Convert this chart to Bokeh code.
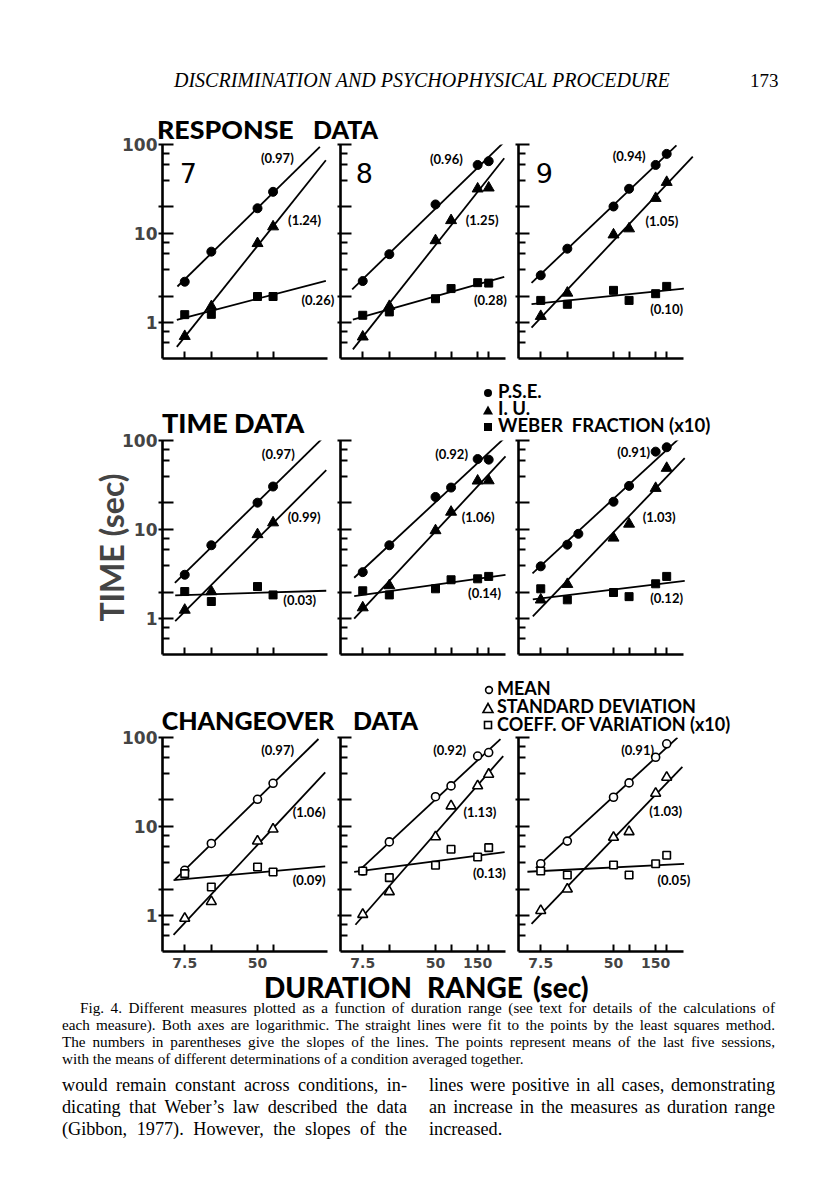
import numpy as np
from bokeh.plotting import figure
from bokeh.models import Div, Label, FixedTicker, Range1d
from bokeh.layouts import row, column
from bokeh.embed import file_html
from bokeh.resources import INLINE

# ---------------- values ----------------
DUR_7 = [7.5, 15, 50, 75]                  # duration ranges used with bird 7
DUR_89 = [7.5, 15, 50, 75, 150, 200]       # duration ranges used with birds 8 and 9
DUR_R8_PSE = [7.5, 15, 50, 150, 200]
DUR_T9_PSE = [7.5, 15, 20, 50, 75, 150, 200]

# RESPONSE DATA
r7_pse = [2.9, 6.3, 19.3, 29.5]
r7_iu = [0.71, 1.53, 7.8, 12.0]
r7_web = [1.24, 1.25, 1.98, 1.98]
r8_pse = [2.95, 5.9, 21.3, 59, 65]
r8_iu = [0.70, 1.54, 8.4, 14.1, 31.9, 32.7]
r8_web = [1.22, 1.33, 1.87, 2.43, 2.83, 2.8]
r9_pse = [3.42, 6.8, 20.2, 31.9, 59, 78.5]
r9_iu = [1.19, 2.17, 9.75, 11.4, 25, 37.8]
r9_web = [1.79, 1.62, 2.32, 1.79, 2.13, 2.57]

# TIME DATA
t7_pse = [3.13, 6.7, 20.1, 30.5]
t7_iu = [1.26, 2.03, 8.85, 12.0]
t7_web = [2.03, 1.57, 2.31, 1.86]
t8_pse = [3.35, 6.7, 23.3, 29.7, 62, 61]
t8_iu = [1.34, 2.37, 9.8, 15.8, 35.3, 35.5]
t8_web = [2.07, 1.86, 2.18, 2.75, 2.82, 3.0]
t9_pse = [3.89, 6.8, 9.0, 20.6, 31, 75, 84]
t9_iu = [1.64, 2.45, 8.1, 11.6, 29.2, 49]
t9_web = [2.18, 1.64, 1.98, 1.78, 2.48, 3.0]

# CHANGEOVER DATA
c7_mean = [3.25, 6.5, 20.3, 30.7]
c7_sd = [0.94, 1.45, 6.9, 9.4]
c7_cov = [2.98, 2.11, 3.54, 3.11]
c8_mean = [3.19, 6.76, 21.7, 28.7, 62, 67.8]
c8_sd = [1.04, 1.87, 7.7, 17.1, 28.7, 38.7]
c8_cov = [3.19, 2.69, 3.7, 5.6, 4.58, 5.83]
c9_mean = [3.85, 6.9, 21.4, 31, 60, 85]
c9_sd = [1.15, 2.0, 7.6, 8.8, 23.7, 35.8]
c9_cov = [3.19, 2.88, 3.73, 2.88, 3.85, 4.8]

# least-squares slopes printed in parentheses (birds 7, 8, 9)
resp_pse_slope = [0.97, 0.96, 0.94]
resp_iu_slope = [1.24, 1.25, 1.05]
resp_web_slope = [0.26, 0.28, 0.10]
time_pse_slope = [0.97, 0.92, 0.91]
time_iu_slope = [0.99, 1.06, 1.03]
time_web_slope = [0.03, 0.14, 0.12]
chg_mean_slope = [0.97, 0.92, 0.91]
chg_sd_slope = [1.06, 1.13, 1.03]
chg_cov_slope = [0.09, 0.13, 0.05]

BIRDS = ["7", "8", "9"]
X_TICKS_7 = [7.5, 15, 50, 75]
X_TICKS_89 = [7.5, 15, 50, 75, 150, 200]
X_TICK_LABELS = {7.5: "7.5", 50: "50", 150: "150"}
Y_MAJOR = [1, 2, 10, 20, 100]
Y_MINOR = [0.6, 0.8, 4, 6, 8, 40, 60, 80]
Y_TICK_LABELS = {1: "1", 10: "10", 100: "100"}

# ---------------- placement (not data) ----------------
X_LO, X_AXIS_HI = 4.2, 310          # drawn extent of the duration axis
Y_LO, Y_HI = 0.4, 100
AXIS_PX = 165                        # pixel length of the drawn x axis
PX_PER_DEC = AXIS_PX / np.log10(X_AXIS_HI / X_LO)
FRAME_W = [175, 175, 195]            # frames a bit wider than the axis so labels are not clipped
LEFT_B = [154, 3, 3]
RIGHT_B = [0, 0, 5]

resp_ext = [[(6.2, 254), (6.1, 297), (6.1, 297)],
            [(5.7, 293), (5.8, 300), (5.8, 300)],
            [(5.9, 258), (5.9, 395), (5.9, 313)]]
time_ext = [[(5.8, 266), (5.85, 300), (5.85, 300)],
            [(6.0, 300), (6.0, 310), (6.0, 310)],
            [(6.05, 292), (6.1, 320), (6.1, 320)]]
chg_ext = [[(5.8, 245), (5.6, 292), (5.6, 292)],
           [(7.0, 272), (6.2, 292), (6.0, 303)],
           [(6.6, 265), (5.9, 301), (5.3, 315)]]
resp_lbl = [[(54.6, 70), (111, 14.1), (157, 1.82)],
            [(43.3, 69), (110, 14.1), (136, 1.79)],
            [(49, 73.6), (115, 14), (130, 1.42)]]
time_lbl = [[(56, 70.6), (110, 14), (98, 1.62)],
            [(49.5, 70.6), (99, 14), (117, 1.94)],
            [(55, 75), (107, 14), (130, 1.72)]]
chg_lbl = [[(55, 72), (125, 14.7), (125, 2.52)],
           [(47, 72), (103.5, 14.7), (133, 3.0)],
           [(61, 72), (127, 15), (157, 2.5)]]
num_pos = [(6.6, 48), (6.25, 48), (6.6, 48)]


def fit_line(xs, ys, slope, ext):
    lx = np.log10(np.asarray(xs, float))
    ly = np.log10(np.asarray(ys, float))
    b = ly.mean() - slope * lx.mean()
    xe = np.asarray(ext, float)
    return xe, 10 ** (b + slope * np.log10(xe))


def make_panel(r, c, series, exts, lbls, number=None, ylabel=None):
    bottom = 24 if r == 2 else 8
    x_hi = X_LO * 10 ** (FRAME_W[c] / PX_PER_DEC)
    p = figure(x_axis_type="log", y_axis_type="log",
               x_range=Range1d(X_LO, x_hi), y_range=Range1d(Y_LO, Y_HI),
               frame_width=FRAME_W[c], frame_height=214,
               min_border_left=LEFT_B[c], min_border_right=RIGHT_B[c],
               min_border_top=10, min_border_bottom=bottom,
               output_backend="svg", toolbar_location=None, title=None,
               background_fill_color=None, border_fill_color=None,
               outline_line_color=None)
    p.grid.visible = False
    xt = X_TICKS_7 if c == 0 else X_TICKS_89

    xa = p.xaxis[0]
    xa.bounds = (X_LO, X_AXIS_HI)
    xa.ticker = FixedTicker(ticks=xt, minor_ticks=[])
    xa.axis_line_width = 2.6
    xa.major_tick_line_width = 2
    xa.major_tick_in = 7
    xa.major_tick_out = 0
    xa.minor_tick_line_color = None
    if r == 2:
        xa.major_label_overrides = {t: X_TICK_LABELS.get(t, "") for t in xt}
        xa.major_label_text_font = "DejaVu Sans"
        xa.major_label_text_font_style = "bold"
        xa.major_label_text_font_size = "14px"
        xa.major_label_standoff = 6
    else:
        xa.major_label_overrides = {t: "" for t in xt}
        xa.major_label_text_font_size = "0px"
        xa.major_label_standoff = 0

    ya = p.yaxis[0]
    ya.ticker = FixedTicker(ticks=Y_MAJOR, minor_ticks=Y_MINOR)
    ya.axis_line_width = 2.6
    ya.major_tick_line_width = 2
    ya.minor_tick_line_width = 2
    ya.major_tick_in = 11
    ya.minor_tick_in = 7
    ya.minor_tick_out = 0
    if c == 0:
        ya.major_tick_out = 4
        ya.major_label_overrides = {t: Y_TICK_LABELS.get(t, "") for t in Y_MAJOR}
        ya.major_label_text_font = "DejaVu Sans"
        ya.major_label_text_font_style = "bold"
        ya.major_label_text_font_size = "17px"
        ya.major_label_standoff = 1
    else:
        ya.major_tick_out = 3
        ya.major_label_overrides = {t: "" for t in Y_MAJOR}
        ya.major_label_text_font_size = "0px"
        ya.major_label_standoff = 0
    if ylabel:
        ya.axis_label = ylabel
        ya.axis_label_text_font = "Lato"
        ya.axis_label_text_font_style = "bold"
        ya.axis_label_text_font_size = "32px"
        ya.axis_label_standoff = -12

    filled = r < 2
    for (xs, ys, slope, kind), ext in zip(series, exts):
        lx, ly = fit_line(xs, ys, slope, ext)
        p.line(lx, ly, line_color="black", line_width=1.8)
    for (xs, ys, slope, kind) in series:
        if filled:
            size = {"circle": 9, "triangle": 11, "square": 8}[kind]
            p.scatter(xs, ys, marker=kind, size=size, fill_color="black",
                      line_color="black", line_width=1)
        else:
            size = {"circle": 8, "triangle": 10, "square": 7.5}[kind]
            p.scatter(xs, ys, marker=kind, size=size, fill_color="white",
                      line_color="black", line_width=1.6)
    for (xs, ys, slope, kind), (lx, ly) in zip(series, lbls):
        p.add_layout(Label(x=lx, y=ly, text="(%.2f)" % slope,
                           text_font="Lato", text_font_style="bold",
                           text_font_size="13px", text_baseline="middle",
                           text_align="left", text_color="black"))
    if number is not None:
        nx, ny = num_pos[c]
        p.add_layout(Label(x=nx, y=ny, text=number, text_font="DejaVu Sans",
                           text_font_size="27px", text_baseline="alphabetic",
                           text_align="left", text_color="black"))
    return p


resp_series = [
    [(DUR_7, r7_pse, resp_pse_slope[0], "circle"), (DUR_7, r7_iu, resp_iu_slope[0], "triangle"),
     (DUR_7, r7_web, resp_web_slope[0], "square")],
    [(DUR_R8_PSE, r8_pse, resp_pse_slope[1], "circle"), (DUR_89, r8_iu, resp_iu_slope[1], "triangle"),
     (DUR_89, r8_web, resp_web_slope[1], "square")],
    [(DUR_89, r9_pse, resp_pse_slope[2], "circle"), (DUR_89, r9_iu, resp_iu_slope[2], "triangle"),
     (DUR_89, r9_web, resp_web_slope[2], "square")],
]
time_series = [
    [(DUR_7, t7_pse, time_pse_slope[0], "circle"), (DUR_7, t7_iu, time_iu_slope[0], "triangle"),
     (DUR_7, t7_web, time_web_slope[0], "square")],
    [(DUR_89, t8_pse, time_pse_slope[1], "circle"), (DUR_89, t8_iu, time_iu_slope[1], "triangle"),
     (DUR_89, t8_web, time_web_slope[1], "square")],
    [(DUR_T9_PSE, t9_pse, time_pse_slope[2], "circle"), (DUR_89, t9_iu, time_iu_slope[2], "triangle"),
     (DUR_89, t9_web, time_web_slope[2], "square")],
]
chg_series = [
    [(DUR_7, c7_mean, chg_mean_slope[0], "circle"), (DUR_7, c7_sd, chg_sd_slope[0], "triangle"),
     (DUR_7, c7_cov, chg_cov_slope[0], "square")],
    [(DUR_89, c8_mean, chg_mean_slope[1], "circle"), (DUR_89, c8_sd, chg_sd_slope[1], "triangle"),
     (DUR_89, c8_cov, chg_cov_slope[1], "square")],
    [(DUR_89, c9_mean, chg_mean_slope[2], "circle"), (DUR_89, c9_sd, chg_sd_slope[2], "triangle"),
     (DUR_89, c9_cov, chg_cov_slope[2], "square")],
]

row1 = row([make_panel(0, c, resp_series[c], resp_ext[c], resp_lbl[c], number=BIRDS[c]) for c in range(3)])
row2 = row([make_panel(1, c, time_series[c], time_ext[c], time_lbl[c],
                       ylabel="TIME (sec)" if c == 0 else None) for c in range(3)])
row3 = row([make_panel(2, c, chg_series[c], chg_ext[c], chg_lbl[c]) for c in range(3)])

# ---------------- text blocks ----------------
SERIF = "'Liberation Serif','Times New Roman',serif"
LATO = "Lato,'DejaVu Sans',sans-serif"
K_LATO = 0.387      # (ascent - descent) / 2
K_SERIF = 0.3375


def txt(x, base, s, fam, size, weight="normal", style="normal", k=K_LATO, lh=None, extra=""):
    lh = size if lh is None else lh
    top = base - lh / 2.0 - k * size
    return ('<div style="position:absolute;left:%.1fpx;top:%.1fpx;font-family:%s;font-size:%.1fpx;'
            'line-height:%.1fpx;font-weight:%s;font-style:%s;white-space:nowrap;color:#000;%s">%s</div>'
            % (x, top, fam, size, lh, weight, style, extra, s))


def jline(x, base, w, s, size, last=False, nowrap=False):
    lh = size
    top = base - lh / 2.0 - K_SERIF * size
    al = "left" if last else "justify"
    ws = "white-space:nowrap;" if nowrap else ""
    return ('<div style="position:absolute;left:%.1fpx;top:%.1fpx;width:%dpx;font-family:%s;font-size:%.1fpx;'
            'line-height:%.1fpx;text-align:%s;text-align-last:%s;color:#000;%s">%s</div>'
            % (x, top, w, SERIF, size, lh, al, al, ws, s))


def sym(cx, cy, kind, filled):
    f = "#000" if filled else "#fff"
    sw = 0 if filled else 1.6
    if kind == "circle":
        shape = '<circle cx="6" cy="6" r="%.1f" fill="%s" stroke="#000" stroke-width="%.1f"/>' % (4 if filled else 3.4, f, sw)
    elif kind == "triangle":
        shape = '<polygon points="6,1.5 11,10.5 1,10.5" fill="%s" stroke="#000" stroke-width="%.1f"/>' % (f, sw)
    else:
        shape = ('<rect x="2" y="2" width="8" height="8" fill="%s"/>' % f if filled else
                 '<rect x="2.5" y="2.5" width="7" height="7" fill="%s" stroke="#000" stroke-width="%.1f"/>' % (f, sw))
    return ('<svg style="position:absolute;left:%.1fpx;top:%.1fpx;overflow:visible" width="12" height="12">%s</svg>'
            % (cx - 6, cy - 6, shape))


def block(h, parts):
    return Div(text='<div style="position:relative;width:800px;height:%dpx;overflow:visible;">%s</div>' % (h, "".join(parts)),
               width=800, height=h, margin=(0, 0, 0, 0), styles={"overflow": "visible"})


# coordinates below are relative to each block (page minus 8px margin)
divA = block(126, [
    txt(166, 79, "DISCRIMINATION AND PSYCHOPHYSICAL PROCEDURE", SERIF, 20, style="italic", k=K_SERIF),
    txt(742, 79, "173", SERIF, 19, k=K_SERIF),
    txt(149, 131, "RESPONSE", LATO, 25, weight="900", lh=20,
        extra="transform:scaleX(1.07);transform-origin:0 50%;"),
    txt(305, 131, "DATA", LATO, 25, weight="900", lh=20),
])

divB = block(64, [
    sym(480, 27, "circle", True), txt(490, 33, "P.S.E.", LATO, 18.5, weight="bold", lh=15),
    sym(480, 44, "triangle", True), txt(490, 50, "I. U.", LATO, 18.5, weight="bold", lh=15),
    sym(480, 61, "square", True), txt(490, 67, "WEBER&nbsp; FRACTION (x10)", LATO, 18.5, weight="bold", lh=15),
    txt(154, 67, "TIME", LATO, 27, weight="900", lh=22),
    txt(226, 67, "DATA", LATO, 27, weight="900", lh=22),
])

divC = block(65, [
    sym(480.5, 28, "circle", False), txt(489, 33, "MEAN", LATO, 18, weight="bold", lh=15),
    sym(480, 45.5, "triangle", False), txt(489, 51, "STANDARD DEVIATION", LATO, 18, weight="bold", lh=15),
    sym(480, 63, "square", False), txt(489, 69, "COEFF. OF VARIATION (x10)", LATO, 18, weight="bold", lh=15),
    txt(153.7, 68, "CHANGEOVER", LATO, 25, weight="900", lh=20),
    txt(345, 68, "DATA", LATO, 25, weight="900", lh=20),
])

cap = [
    "Fig. 4. Different measures plotted as a function of duration range (see text for details of the calculations of",
    "each measure). Both axes are logarithmic. The straight lines were fit to the points by the least squares method.",
    "The numbers in parentheses give the slopes of the lines. The points represent means of the last five sessions,",
    "with the means of different determinations of a condition averaged together.",
]
body_l = ["would remain constant across conditions, in-",
          "dicating that Weber\u2019s law described the data",
          "(Gibbon, 1977). However, the slopes of the"]
body_r = ["lines were positive in all cases, demonstrating",
          "an increase in the measures as duration range",
          "increased."]
partsD = [
    txt(256, 23, "DURATION", LATO, 28, weight="900", lh=22),
    txt(419, 23, "RANGE", LATO, 28, weight="900", lh=22),
    txt(525, 23, "(sec)", LATO, 28, weight="900", lh=22),
]
cap_base = [38, 55, 72, 89]
CAP_FS = 15.2
partsD.append(jline(72, cap_base[0], 695, cap[0], CAP_FS, nowrap=True))
partsD.append(jline(54, cap_base[1], 713, cap[1], CAP_FS, nowrap=True))
partsD.append(jline(54, cap_base[2], 713, cap[2], CAP_FS, nowrap=True))
partsD.append(jline(54, cap_base[3], 713, cap[3], CAP_FS, last=True, nowrap=True))
body_base = [116, 138, 160]
for i in range(3):
    partsD.append(jline(54, body_base[i], 345, body_l[i], 18.2))
    partsD.append(jline(421, body_base[i], 346, body_r[i], 18.2, last=(i == 2)))
divD = block(175, partsD)

layout = column([divA, row1, divB, row2, divC, row3, divD], margin=(8, 8, 8, 8))

with open("out.html", "w") as f:
    f.write(file_html(layout, INLINE, title="Discrimination and psychophysical procedure, Fig. 4"))
